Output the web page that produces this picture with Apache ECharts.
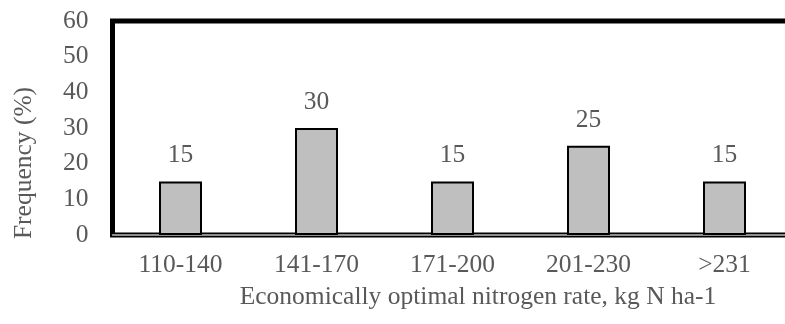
<!DOCTYPE html>
<html>
<head>
<meta charset="utf-8">
<script src="https://cdn.jsdelivr.net/npm/echarts@6/dist/echarts.min.js"></script>
<style>html,body{margin:0;padding:0;background:#fff;}#c{width:785px;height:324px;}</style>
</head>
<body>
<div id="c"></div>
<script>
const categories = ['110-140', '141-170', '171-200', '201-230', '>231'];
const frequency = [15, 30, 15, 25, 15];
const yTicks = { min: 0, max: 60, interval: 10 };
const xTitle = 'Economically optimal nitrogen rate, kg N ha-1';
const yTitle = 'Frequency (%)';

const font = '"Liberation Serif", "Times New Roman", serif';
const txt = '#595959';
const fs = 25.5;
const chart = echarts.init(document.getElementById('c'), null, { renderer: 'canvas' });
chart.setOption({
  animation: false,
  backgroundColor: '#fff',
  grid: { left: 112.5, top: 21, width: 680, bottom: 89, show: true, borderWidth: 5, borderColor: '#000', backgroundColor: 'transparent', containLabel: false, outerBoundsMode: 'none' },
  xAxis: {
    type: 'category', data: categories,
    name: xTitle, nameLocation: 'middle', nameGap: 49,
    nameTextStyle: { fontFamily: font, fontSize: fs, color: txt, padding: [0, 0, 0, 51] },
    axisLine: { show: true, lineStyle: { color: '#BFBFBF', width: 1.5 } },
    axisTick: { show: false },
    axisLabel: { fontFamily: font, fontSize: fs, color: txt, margin: 17 },
    splitLine: { show: false }
  },
  yAxis: {
    type: 'value', min: yTicks.min, max: yTicks.max, interval: yTicks.interval,
    name: yTitle, nameLocation: 'middle', nameGap: 75,
    nameTextStyle: { fontFamily: font, fontSize: fs, color: txt, padding: [0, 70, 0, 0] },
    axisLine: { show: false }, axisTick: { show: false },
    axisLabel: { fontFamily: font, fontSize: fs, color: txt, margin: 24 },
    splitLine: { show: false }
  },
  series: [{
    type: 'bar', data: frequency, barWidth: 43,
    itemStyle: { color: '#BFBFBF', borderColor: '#000', borderWidth: 2 },
    label: { show: true, position: 'top', distance: 13, fontFamily: font, fontSize: fs, color: txt }
  }]
});
</script>
</body>
</html>
